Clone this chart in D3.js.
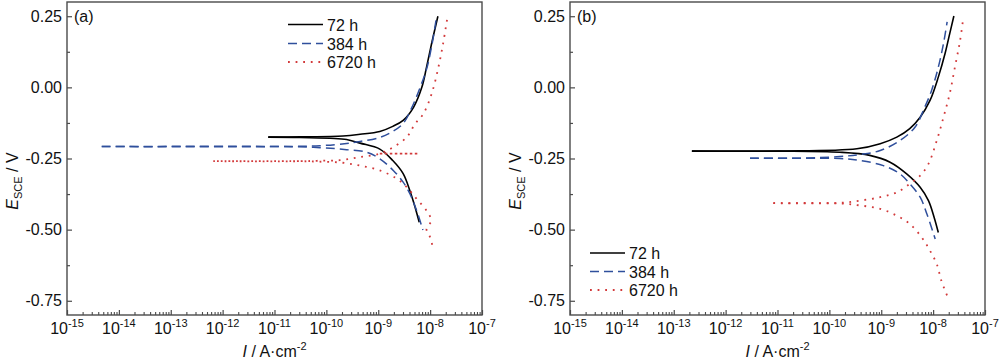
<!DOCTYPE html>
<html><head><meta charset="utf-8">
<script src="https://cdn.jsdelivr.net/npm/d3@7"></script>
<style>
html,body{margin:0;padding:0;background:#fff;}
svg{display:block;font-family:"Liberation Sans",Arial,sans-serif;}
</style></head>
<body>
<svg id="chart" width="1000" height="361"></svg>
<script>
// ---- data: [log10(I / A·cm^-2), E_SCE / V] ----
// each branch starts at the corrosion potential
const seriesNames = ["72 h", "384 h", "6720 h"];
const xTickExps = [-15, -14, -13, -12, -11, -10, -9, -8, -7];
const yTicks = [0.25, 0, -0.25, -0.5, -0.75];
const yTickLabels = ["0.25", "0.00", "-0.25", "-0.50", "-0.75"];
const yMinorTicks = [0.125, -0.125, -0.375, -0.625];

// panel (a)
const a72Cath = [[-11.12,-0.175],[-10.51,-0.176],[-9.93,-0.179],[-9.61,-0.183],[-9.35,-0.196],[-8.97,-0.217],[-8.72,-0.257],[-8.52,-0.303],[-8.39,-0.363],[-8.29,-0.421],[-8.21,-0.474]];
const a72Anod = [[-11.12,-0.175],[-10.51,-0.174],[-9.68,-0.171],[-9.35,-0.165],[-8.97,-0.155],[-8.72,-0.137],[-8.52,-0.116],[-8.32,-0.070],[-8.16,0.000],[-8.07,0.070],[-7.97,0.155],[-7.85,0.250]];
const a384Cath = [[-14.33,-0.208],[-10.90,-0.208],[-10.12,-0.212],[-9.61,-0.219],[-9.22,-0.228],[-8.97,-0.251],[-8.71,-0.292],[-8.52,-0.333],[-8.39,-0.374],[-8.26,-0.433],[-8.14,-0.501]];
const a384Anod = [[-14.33,-0.208],[-10.90,-0.208],[-10.12,-0.205],[-9.61,-0.197],[-9.35,-0.190],[-8.97,-0.176],[-8.72,-0.155],[-8.52,-0.127],[-8.36,-0.074],[-8.20,-0.004],[-8.06,0.070],[-7.96,0.155],[-7.88,0.243]];
const a6720Cath = [[-12.18,-0.2595],[-10.50,-0.2595],[-10.18,-0.261],[-9.74,-0.264],[-9.35,-0.275],[-8.97,-0.292],[-8.64,-0.321],[-8.45,-0.351],[-8.26,-0.392],[-8.07,-0.433],[-7.98,-0.468],[-8.07,-0.498],[-8.00,-0.527],[-7.94,-0.568]];
const a6720Anod = [[-12.18,-0.2595],[-10.50,-0.2595],[-10.18,-0.258],[-9.74,-0.256],[-9.35,-0.245],[-8.97,-0.233],[-8.71,-0.210],[-8.45,-0.175],[-8.29,-0.128],[-8.13,-0.093],[-7.97,-0.022],[-7.84,0.071],[-7.75,0.154],[-7.67,0.242]];
const a6720Flat = [[-8.97,-0.233],[-8.23,-0.233]];

// panel (b)
const b72Cath = [[-12.65,-0.224],[-10.95,-0.224],[-9.80,-0.228],[-9.22,-0.239],[-8.83,-0.263],[-8.51,-0.304],[-8.25,-0.351],[-8.09,-0.398],[-7.98,-0.457],[-7.90,-0.510]];
const b72Anod = [[-12.65,-0.224],[-10.95,-0.224],[-9.47,-0.216],[-9.02,-0.198],[-8.70,-0.175],[-8.45,-0.145],[-8.25,-0.105],[-8.06,-0.046],[-7.90,0.036],[-7.77,0.119],[-7.68,0.189],[-7.60,0.251]];
const b384Cath = [[-11.53,-0.249],[-10.57,-0.249],[-9.80,-0.250],[-9.41,-0.257],[-8.96,-0.275],[-8.64,-0.304],[-8.45,-0.339],[-8.25,-0.386],[-8.12,-0.445],[-7.96,-0.533]];
const b384Anod = [[-11.53,-0.249],[-10.57,-0.249],[-9.80,-0.243],[-9.41,-0.236],[-9.02,-0.222],[-8.64,-0.187],[-8.35,-0.140],[-8.16,-0.069],[-8.03,-0.011],[-7.90,0.071],[-7.80,0.154],[-7.73,0.230]];
const b6720Cath = [[-11.08,-0.407],[-9.80,-0.408],[-9.41,-0.415],[-9.02,-0.427],[-8.70,-0.451],[-8.45,-0.480],[-8.22,-0.527],[-8.06,-0.574],[-7.93,-0.621],[-7.84,-0.680],[-7.73,-0.732]];
const b6720Anod = [[-11.08,-0.407],[-9.80,-0.406],[-9.41,-0.398],[-9.02,-0.386],[-8.70,-0.369],[-8.45,-0.339],[-8.25,-0.310],[-8.09,-0.269],[-7.93,-0.187],[-7.80,-0.105],[-7.68,-0.022],[-7.58,0.071],[-7.48,0.165],[-7.42,0.242]];

// ---- styles ----
const styles = [
  {color:"#000000", dash:null, width:1.6, cap:"butt"},
  {color:"#2f4f9c", dash:"9,5", width:1.5, cap:"butt"},
  {color:"#d2393a", dash:"1.8,5.8", width:1.8, cap:"butt"}
];

const svg = d3.select("#chart");
const plotTop = 2, plotBottom = 315;
const FS = 16;

function drawPanel(cfg){
  const g = svg.append("g");
  const x = d3.scaleLog().domain([1e-15, 1e-7]).range([cfg.left, cfg.right]);
  const y = d3.scaleLinear().domain([-0.8, 0.3]).range([plotBottom, plotTop]);

  // frame
  g.append("rect").attr("x", cfg.left).attr("y", plotTop)
    .attr("width", cfg.right - cfg.left).attr("height", plotBottom - plotTop)
    .attr("fill", "none").attr("stroke", "#4a4a4a").attr("stroke-width", 1.4);

  // y axis (inward ticks)
  const ya = g.append("g").attr("transform", `translate(${cfg.left},0)`)
    .call(d3.axisLeft(y).tickValues(yTicks).tickSize(-5).tickPadding(5)
      .tickFormat((d,i) => yTickLabels[i]));
  ya.select(".domain").remove();
  ya.selectAll("line").attr("stroke", "#4a4a4a").attr("stroke-width", 1.2);
  ya.selectAll("text").attr("font-size", FS).attr("fill", "#111")
    .attr("font-family", '"Liberation Sans",Arial,sans-serif');
  const yam = g.append("g").attr("transform", `translate(${cfg.left},0)`)
    .call(d3.axisLeft(y).tickValues(yMinorTicks).tickSize(-3).tickFormat(""));
  yam.select(".domain").remove();
  yam.selectAll("line").attr("stroke", "#4a4a4a").attr("stroke-width", 1.2);

  // x axis (inward ticks)
  const majors = xTickExps.map(e => Math.pow(10, e));
  const minors = [];
  xTickExps.slice(0, -1).forEach(e => { for (let m = 2; m <= 9; m++) minors.push(m * Math.pow(10, e)); });
  const xa = g.append("g").attr("transform", `translate(0,${plotBottom})`)
    .call(d3.axisBottom(x).tickValues(majors).tickSize(-5).tickFormat(""));
  xa.select(".domain").remove();
  xa.selectAll("line").attr("stroke", "#4a4a4a").attr("stroke-width", 1.2);
  const xam = g.append("g").attr("transform", `translate(0,${plotBottom})`)
    .call(d3.axisBottom(x).tickValues(minors).tickSize(-3).tickFormat(""));
  xam.select(".domain").remove();
  xam.selectAll("line").attr("stroke", "#4a4a4a").attr("stroke-width", 1.1);

  xTickExps.forEach(e => {
    const t = g.append("text").attr("x", x(Math.pow(10, e))).attr("y", 334)
      .attr("text-anchor", "middle").attr("font-size", FS).attr("fill", "#111");
    t.append("tspan").text("10");
    t.append("tspan").attr("font-size", 11).attr("dy", -7).text(String(e));
  });

  // axis titles
  const xt = g.append("text").attr("x", (cfg.left + cfg.right) / 2).attr("y", 357)
    .attr("text-anchor", "middle").attr("font-size", FS).attr("fill", "#111");
  xt.append("tspan").attr("font-style", "italic").text("I");
  xt.append("tspan").text(" / A·cm");
  xt.append("tspan").attr("font-size", 11).attr("dy", -7).text("-2");

  const yt = g.append("text")
    .attr("transform", `translate(${cfg.left - 49},181) rotate(-90)`)
    .attr("text-anchor", "middle").attr("font-size", FS).attr("fill", "#111");
  yt.append("tspan").attr("font-style", "italic").text("E");
  yt.append("tspan").attr("font-size", 11).attr("dy", 4).text("SCE");
  yt.append("tspan").attr("dy", -4).text(" / V");

  // panel tag
  g.append("text").attr("x", cfg.left + 7).attr("y", 22).attr("font-size", FS)
    .attr("fill", "#111").text(cfg.tag);

  // curves
  const line = d3.line()
    .x(d => x(Math.pow(10, d[0])))
    .y(d => y(d[1]))
    .curve(d3.curveCatmullRom.alpha(0.5));
  const clipId = "clip" + cfg.tag.replace(/\W/g, "");
  svg.append("clipPath").attr("id", clipId).append("rect")
    .attr("x", cfg.left).attr("y", plotTop).attr("width", cfg.right - cfg.left).attr("height", plotBottom - plotTop);
  const cg = g.append("g").attr("clip-path", `url(#${clipId})`);
  cfg.series.forEach((s, i) => {
    const st = styles[i];
    s.forEach((seg, j) => {
      const o = (cfg.overrides || {})[i + "-" + j] || {};
      cg.append("path").attr("d", line(seg)).attr("fill", "none")
        .attr("stroke", st.color).attr("stroke-width", st.width)
        .attr("stroke-dasharray", o.dash || st.dash)
        .attr("stroke-dashoffset", o.offset || 0)
        .attr("stroke-linecap", st.cap);
    });
  });

  // legend
  seriesNames.forEach((name, i) => {
    const st = styles[i];
    const ly = cfg.legY[i];
    g.append("line").attr("x1", cfg.legX).attr("x2", cfg.legX + 35)
      .attr("y1", ly).attr("y2", ly)
      .attr("stroke", st.color).attr("stroke-width", st.width)
      .attr("stroke-dasharray", st.dash)
      .attr("stroke-linecap", st.cap);
    g.append("text").attr("x", cfg.legX + 39).attr("y", ly + 6)
      .attr("font-size", FS).attr("fill", "#111").text(name);
  });
}

drawPanel({left:67, right:482, tag:"(a)", legX:288, legY:[24.5, 43.5, 62],
  series:[[a72Cath, a72Anod],[a384Cath, a384Anod],[a6720Cath, a6720Anod, a6720Flat]],
  overrides:{"2-1":{offset:3.8}, "2-2":{dash:"2.5,2.5"}}});
drawPanel({left:570, right:985, tag:"(b)", legX:590, legY:[253, 271.5, 290],
  series:[[b72Cath, b72Anod],[b384Cath, b384Anod],[b6720Cath, b6720Anod]]});
</script>
</body></html>
